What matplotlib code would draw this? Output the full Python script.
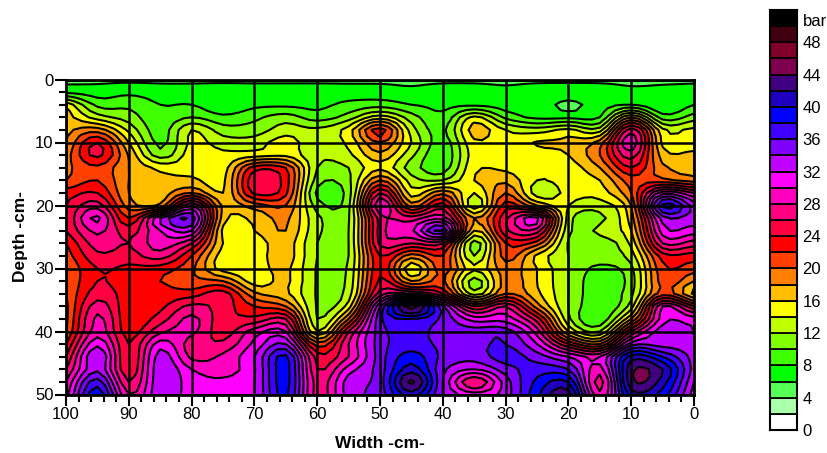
import numpy as np
import matplotlib
matplotlib.use("Agg")
import matplotlib.pyplot as plt
from matplotlib.colors import ListedColormap, BoundaryNorm

plt.rcParams["font.family"] = ["Liberation Sans", "DejaVu Sans"]

widths = [100, 95, 90, 85, 80, 75, 70, 65, 60, 55, 50, 45, 40, 35, 30, 25, 20, 15, 10, 5, 0]
depths = list(range(0, 52, 2))

# pressure read per width column, depth 0 to 50 in steps of 2
w100 = [5.5, 7.5, 15.5, 17, 17.5, 18, 19, 19.5, 20, 23, 24, 24, 24, 22, 21, 20, 20, 20, 19.5, 19.5, 20, 22, 24, 26, 28, 29]
w95 = [5.5, 7, 9.5, 13, 19, 24, 24.5, 21.5, 22, 24, 27, 30.5, 28.5, 27, 25.5, 24, 24, 25, 27, 28.5, 29, 31.5, 34, 33.5, 37, 39.5]
w90 = [5.5, 7.5, 9.5, 11, 13.5, 16, 17.8, 18, 18, 18, 19, 22, 25, 26, 25, 23.5, 22.8, 23, 22.5, 22.5, 23, 24, 24, 24.5, 26, 28]
w85 = [5.5, 7, 8, 8.5, 9, 9.5, 11, 15.5, 16.5, 17, 18.5, 32, 30, 29, 27, 23, 22, 23, 23.5, 25, 27.5, 31, 33, 33.5, 33.5, 33.5]
w80 = [5.5, 7, 8, 10, 14, 14.5, 15, 15.2, 16.5, 20, 30, 35.5, 32, 26, 22, 20.5, 20.5, 23, 26.5, 28.5, 28.5, 27, 27.5, 30, 31, 31]
w75 = [5.5, 7, 6.5, 8.5, 11, 13, 14.5, 15, 15.5, 16, 17.5, 17, 15.5, 16, 15, 15, 20, 25, 25, 24.7, 25, 26.5, 28.5, 29, 30.5, 31]
w70 = [5.5, 7, 7.5, 9.5, 11, 13, 15, 23, 25.5, 24.5, 19, 16.5, 16, 15, 15, 15, 15, 18.5, 22, 24.5, 29, 30.5, 32, 31.8, 32, 32]
w65 = [5.5, 7, 7.5, 11, 13, 15, 15.5, 22, 23, 22.5, 20, 18.5, 18, 17, 17, 16.5, 16.5, 16.5, 20, 26, 30, 34, 38.5, 39, 39, 38.5]
w60 = [5.5, 7, 7.5, 9, 12.5, 12.5, 12.5, 12, 11, 9.5, 11, 12.5, 12.5, 12, 12, 11.8, 11.8, 11.8, 11.8, 12, 14, 21, 25, 26, 27, 27]
w55 = [5.5, 7, 8.5, 11, 15, 14.5, 13.5, 12, 11.5, 11, 11.5, 11.8, 12, 12, 12, 12.3, 12.5, 13, 15, 20, 26, 28, 28, 31, 33, 33]
w50 = [5.5, 7, 9, 15, 23, 20, 17.5, 15.5, 20, 26, 30, 27, 27, 26.5, 24, 23.5, 24.5, 27, 34, 35.5, 35, 35, 35, 35, 35, 35]
w45 = [5.5, 6.5, 8, 11, 13, 14, 12.5, 11, 13, 15, 19, 27, 29.5, 26, 19, 14.5, 18, 28, 45, 38, 37, 37, 39, 41, 44.5, 41]
w40 = [5.5, 7, 7.5, 8.5, 9.5, 9, 8.5, 9, 12, 19.5, 25, 29, 36, 26, 22, 21, 20.5, 24, 34.5, 35.5, 35, 35.5, 35.5, 34.5, 34, 34]
w35 = [5.5, 7, 7.5, 14.5, 17, 15.5, 15, 15.5, 16, 14, 12.5, 18, 16, 11, 12, 14.5, 11, 13, 24, 31, 35, 35.5, 34.8, 32, 26, 31]
w30 = [5.5, 6.5, 7, 9.5, 14, 14.5, 15, 15.5, 17.5, 20, 23, 25.5, 25.5, 22, 21, 19, 19, 20, 28, 31, 35, 36, 37, 35, 33, 33]
w25 = [5.5, 7, 7, 7.5, 13, 16.2, 15, 14.5, 14, 13, 18, 30.5, 27, 21, 15.5, 16, 16, 16.5, 19, 25, 29, 32, 35, 37, 38.5, 39.5]
w20 = [5.5, 7, 5.5, 7.5, 14.5, 16.5, 16, 15, 15, 14.5, 14, 13, 12.5, 11.8, 12, 12, 12, 12, 12, 12.5, 16, 24, 32, 36, 40, 43]
w15 = [5.5, 7, 7, 8, 13, 19, 20, 18, 16, 15, 13, 11.5, 12.5, 11, 11, 9.5, 8.6, 8.6, 8.6, 8.6, 12, 20, 30, 29, 27, 28.5]
w10 = [5.5, 6.5, 8, 18, 27, 29.5, 27, 24, 21, 20, 18, 17, 16, 14.5, 13, 11.5, 11, 11.5, 13, 18, 26, 33, 41, 43.5, 43.5, 41]
w5 = [5.5, 6.5, 6, 9, 14.5, 15.5, 17, 18.5, 20.5, 31, 38.5, 33, 31, 28, 23, 21.5, 21, 21, 30, 31, 33, 33, 38, 42, 41, 39]
w0 = [5.5, 7, 8, 11, 14.5, 15, 16.5, 17, 19, 28, 33, 33, 31, 27, 23, 21, 18, 15.5, 24, 31, 32, 33, 33, 33, 32, 31]

levels = list(range(0, 54, 2))
colors = ["#ffffff", "#aaffaa", "#55ff55", "#00ff00", "#40ff00", "#80ff00", "#bfff00", "#ffff00",
          "#ffbf00", "#ff8000", "#ff4000", "#ff0000", "#ff0040", "#ff0080", "#ff00bf", "#ff00ff",
          "#bf00ff", "#8000ff", "#4000ff", "#0000ff", "#2000bf", "#400080", "#800050", "#80002a",
          "#400010", "#000000"]
legend_ticks = [0, 4, 8, 12, 16, 20, 24, 28, 32, 36, 40, 44, 48]


def smooth_axis(z, n):
    # Catmull-Rom along axis 0 so contours are rounded like the gridding software's
    p = np.vstack([2 * z[0] - z[1], z, 2 * z[-1] - z[-2]])
    out = []
    for i in range(1, len(z)):
        for t in np.arange(n) / n:
            out.append(0.5 * (2 * p[i] + (p[i + 1] - p[i - 1]) * t
                              + (2 * p[i - 1] - 5 * p[i] + 4 * p[i + 1] - p[i + 2]) * t ** 2
                              + (3 * p[i] - p[i - 1] - 3 * p[i + 1] + p[i + 2]) * t ** 3))
    out.append(z[-1])
    return np.array(out)


grid = np.column_stack([w100, w95, w90, w85, w80, w75, w70, w65, w60, w55, w50, w45, w40,
                        w35, w30, w25, w20, w15, w10, w5, w0])
fine = smooth_axis(smooth_axis(grid, 2).T, 4).T
fine_x = np.linspace(100, 0, fine.shape[1])
fine_y = np.linspace(0, 50, fine.shape[0])

cmap = ListedColormap(colors)
norm = BoundaryNorm(levels, cmap.N)

fig = plt.figure(figsize=(8.28, 4.53), dpi=100)
ax = fig.add_axes([66 / 828, 1 - 394.5 / 453, 628 / 828, 315 / 453])

ax.contourf(fine_x, fine_y, fine, levels=levels, cmap=cmap, norm=norm, extend="both")
ax.contour(fine_x, fine_y, fine, levels=levels, colors="black", linewidths=1.5)

ax.set_xlim(100, 0)
ax.set_ylim(50, 0)
ax.set_xticks(range(0, 101, 10))
ax.set_yticks(range(0, 51, 10))
ax.set_xticks(range(0, 101, 2), minor=True)
ax.set_yticks(range(0, 51, 2), minor=True)
ax.tick_params(which="major", length=8, width=1.5, labelsize=12, pad=1)
ax.tick_params(which="minor", length=5, width=1.5)
ax.grid(True, which="major", color="black", linewidth=1.8)
ax.set_axisbelow(False)
for s in ax.spines.values():
    s.set_linewidth(2)
ax.set_xlabel("Width -cm-", fontsize=12.5, fontweight="bold", labelpad=10)
ax.set_ylabel("Depth -cm-", fontsize=12.5, fontweight="bold", labelpad=5)

# colour key
cax = fig.add_axes([770 / 828, 1 - 430 / 453, 27 / 828, 420 / 453])
for i, c in enumerate(colors):
    cax.bar(0.5, levels[i + 1] - levels[i], bottom=levels[i], width=1, color=c,
            edgecolor="black", linewidth=1.3)
cax.set_xlim(0, 1)
cax.set_ylim(0, 52)
cax.set_xticks([])
cax.yaxis.tick_right()
cax.set_yticks(legend_ticks + [50.7])
cax.set_yticklabels([str(t) for t in legend_ticks] + ["bar"], fontsize=12)
cax.tick_params(length=0, pad=4)
for s in cax.spines.values():
    s.set_linewidth(1.5)

fig.savefig("out.png", dpi=100)
